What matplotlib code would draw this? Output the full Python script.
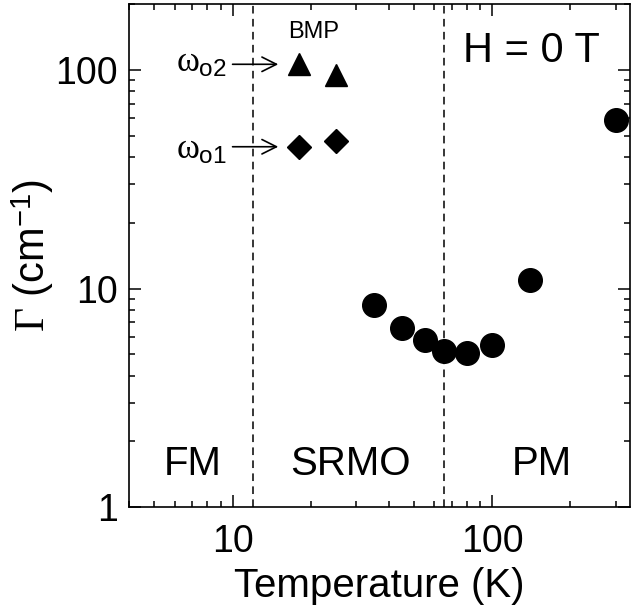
import matplotlib.pyplot as plt
from matplotlib.ticker import NullFormatter

plt.rcParams['font.family'] = ['Liberation Sans', 'DejaVu Sans']
plt.rcParams['mathtext.fontset'] = 'custom'
plt.rcParams['mathtext.rm'] = 'Liberation Serif'
plt.rcParams['mathtext.it'] = 'Liberation Serif'
plt.rcParams['mathtext.sf'] = 'Liberation Sans'

# --- data ---
# bound magnetic polaron modes
T_bmp = [18, 25]
gamma_o2 = [106, 95]
gamma_o1 = [44.5, 47.5]

# phonon linewidth
T_ph = [35, 45, 55, 65, 80, 100, 140, 300]
gamma_ph = [8.4, 6.6, 5.8, 5.2, 5.1, 5.5, 10.9, 59]

# phase boundaries (K)
T_bounds = [12, 65]
phase_names = ["FM", "SRMO", "PM"]
phase_x = [7, 28.5, 156]

x_ticks = [10, 100]
y_ticks = [1, 10, 100]

fig = plt.figure(figsize=(6.31, 6.12), dpi=100)
ax = fig.add_axes([0.2049, 0.1711, 0.7935, 0.8224])
ax.set_xscale('log')
ax.set_yscale('log')
ax.set_xlim(4, 340)
ax.set_ylim(1, 200)

for tb in T_bounds:
    ax.axvline(tb, color='k', lw=1.1, ls=(0, (5, 3.5)))

ax.plot(T_ph, gamma_ph, 'o', color='k', ms=17)
ax.plot(T_bmp, gamma_o2, '^', color='k', ms=16.5)
ax.plot(T_bmp, gamma_o1, 'D', color='k', ms=12)

# arrows pointing to the BMP modes
for y, lab, dy in [(gamma_o2[0], r"$\omega_{\mathsf{o2}}$", 1), (gamma_o1[0], r"$\omega_{\mathsf{o1}}$", -2)]:
    ax.annotate("", xy=(15, y), xytext=(10, y),
                arrowprops=dict(arrowstyle='->', lw=1.2, color='k',
                                shrinkA=0, shrinkB=0, mutation_scale=26))
    ax.annotate(lab, xy=(10, y), xytext=(-4, dy), textcoords='offset points',
                ha='right', va='center', fontsize=25)

ax.text(20.5, 140, "BMP", ha='center', va='baseline', fontsize=17)
ax.text(0.94, 0.885, "H = 0 T", transform=ax.transAxes,
        ha='right', va='baseline', fontsize=30)

for name, xp in zip(phase_names, phase_x):
    ax.text(xp, 1.41, name, ha='center', va='baseline', fontsize=29)

ax.set_xticks(x_ticks)
ax.set_xticklabels([str(v) for v in x_ticks])
ax.set_yticks(y_ticks)
ax.set_yticklabels([str(v) for v in y_ticks])
ax.xaxis.set_minor_formatter(NullFormatter())
ax.yaxis.set_minor_formatter(NullFormatter())
ax.tick_params(which='both', direction='in', top=True, right=True,
               labelsize=27, width=1.1)
ax.tick_params(which='major', length=8.6)
ax.tick_params(which='minor', length=4.3)
ax.tick_params(axis='x', pad=12)
ax.tick_params(axis='y', pad=8)
for s in ax.spines.values():
    s.set_linewidth(1.2)

ax.set_xlabel("Temperature (K)", fontsize=29, labelpad=5)
ax.set_ylabel(r"$\Gamma$ (cm$^{\mathsf{-1}}$)", fontsize=30, labelpad=0)

fig.savefig("out.png", dpi=100)
